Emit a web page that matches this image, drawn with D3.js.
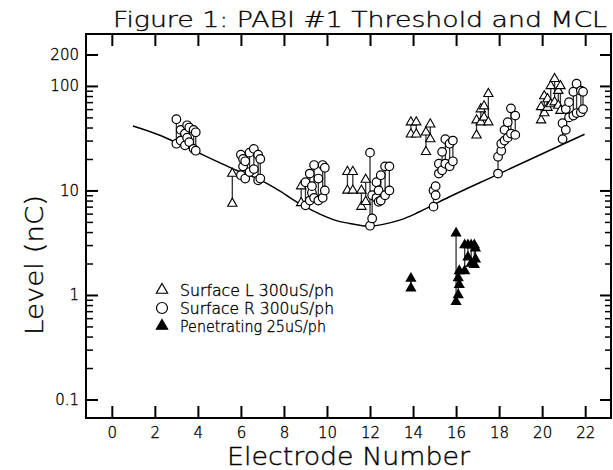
<!DOCTYPE html>
<html>
<head>
<meta charset="utf-8">
<script src="https://cdn.jsdelivr.net/npm/d3@7"></script>
<style>
  body { margin: 0; background: #fff; }
  svg { display: block; }
  text { font-family: "DejaVu Sans", "Liberation Sans", Arial, sans-serif; font-weight: 200; fill: #000; stroke: #000; stroke-width: 0.35px; }
</style>
</head>
<body>
<svg id="chart" width="613" height="470"></svg>
<script>
// ---- axis ticks and labels ----
const xTickValues = [0, 2, 4, 6, 8, 10, 12, 14, 16, 18, 20, 22];
const yMajorValues = [0.1, 1, 10, 100, 200];
const yMajorLabels = ["0.1", "1", "10", "100", "200"];
const yMinorValues = [0.2,0.3,0.4,0.5,0.6,0.7,0.8,0.9, 2,3,4,5,6,7,8,9, 20,30,40,50,60,70,80,90];

// ---- fitted level curve (electrode, nC) ----
const curveElectrode = [0.98, 2.23, 5.79, 6.87, 7.80, 8.87, 10.36, 11.05, 11.98, 13.38, 14.30, 15.70, 18.02, 21.97];
const curveLevel     = [41.4, 33.7, 15.6, 12.7, 9.9,  7.2,  5.2,   4.84,  4.56,  5.2,   6.25,  8.7,   14.5,  34.5];

// ---- Surface L 300uS/ph : electrode, threshold, MCL ----
const surfLElectrode = [5.6, 8.8, 10.95, 11.2, 11.6, 11.8, 13.9, 14.15, 14.6, 14.8, 16.95, 17.15, 17.3, 17.5, 19.95, 20.1, 20.25, 20.4, 20.58, 20.75, 20.85];
const surfLThreshold = [7.5, 7.6, 10.0,  10.0, 7.0,  7.8,  34.5, 34.5,  23.4, 31.0, 33.7,  45.0,  50.0, 45.0, 47.0,  55.0, 62.0,  67.0, 70.0,  65.0,  58.0];
const surfLMCL       = [14.5, 11.0, 15.1, 15.1, 10.0, 12.7, 45.0, 45.0, 36.0, 43.0, 47.0, 60.0, 64.0, 84.0, 63.0, 80.0, 75.0, 100.0, 117.0, 90.0, 100.0];

// ---- Surface R 300uS/ph : electrode, threshold, MCL ----
const surfRElectrode = [3.0, 3.2, 3.4, 3.5, 3.6, 3.8, 3.9,
                        6.0, 6.1, 6.2, 6.4, 6.6, 6.8, 6.9,
                        9.0, 9.2, 9.3, 9.4, 9.6, 9.8, 9.9,
                        12.0, 12.1, 12.3, 12.4, 12.5, 12.7, 12.9,
                        14.95, 15.05, 15.2, 15.35, 15.5, 15.7, 15.85,
                        17.95, 18.1, 18.25, 18.4, 18.55, 18.75,
                        20.95, 21.1, 21.25, 21.45, 21.6, 21.8, 21.9];
const surfRThreshold = [28, 30, 27, 32, 29, 25, 24,
                        14, 17, 13, 15, 16, 12.5, 13,
                        7.2, 8, 9.5, 8.5, 8, 8.5, 10,
                        4.6, 5.4, 8.5, 7.8, 8, 9, 10,
                        7, 9, 14.5, 15.6, 18, 17, 19,
                        14.5, 24, 30, 32, 35, 34,
                        31, 38, 50, 52, 55, 56, 60];
const surfRMCL       = [48, 38, 35, 42, 40, 38, 36,
                        22, 20, 19, 23, 25, 22, 20,
                        12, 14.5, 11, 17.5, 13, 17.5, 16.5,
                        23, 9, 12, 10, 14, 17, 17,
                        10, 11, 18, 23.4, 31, 28, 30,
                        21, 28, 38, 45, 61, 52,
                        44, 60, 70, 88, 105, 90, 88];

// ---- Penetrating 25uS/ph : electrode, threshold, MCL ----
const penElectrode = [13.9, 16.0, 16.1, 16.15, 16.4, 16.55, 16.7, 16.85, 16.9];
const penThreshold = [1.16, 0.86, 1.0, 1.25, 1.7, 2.3, 2.0, 1.95, 2.2];
const penMCL       = [1.44, 3.9, 1.45, 1.7, 3.0, 3.0, 3.0, 3.0, 2.8];

const legendLabels = ["Surface L  300uS/ph", "Surface R  300uS/ph", "Penetrating  25uS/ph"];

// ---- layout ----
const svg = d3.select("#chart");
const plot = { left: 86, right: 611, top: 34, bottom: 418 };

const x = d3.scaleLinear().domain([-1.2, 23.2]).range([plot.left, plot.right]);
const y = d3.scaleLog().domain([0.0665, 314]).range([plot.bottom, plot.top]);

// ---- axes with inward ticks on all four sides ----
function styleAxis(g, width) {
  g.select(".domain").remove();
  g.selectAll(".tick line").attr("stroke", "#000").attr("stroke-width", width);
}
function styleLabels(g) {
  g.selectAll(".tick text")
    .attr("font-size", 15)
    .attr("font-family", null);
}

svg.append("g")
  .attr("transform", `translate(0,${plot.bottom})`)
  .call(d3.axisBottom(x).tickValues(xTickValues).tickSizeInner(-12).tickSizeOuter(0).tickPadding(9).tickFormat(d3.format("d")))
  .call(g => styleAxis(g, 2))
  .call(styleLabels);

svg.append("g")
  .attr("transform", `translate(0,${plot.top})`)
  .call(d3.axisTop(x).tickValues(xTickValues).tickSizeInner(-12).tickSizeOuter(0).tickFormat(""))
  .call(g => styleAxis(g, 2));

svg.append("g")
  .attr("transform", `translate(${plot.left},0)`)
  .call(d3.axisLeft(y).tickValues(yMajorValues).tickSizeInner(-12).tickSizeOuter(0).tickPadding(7)
        .tickFormat((d, i) => yMajorLabels[i]))
  .call(g => styleAxis(g, 2))
  .call(styleLabels);

svg.append("g")
  .attr("transform", `translate(${plot.left},0)`)
  .call(d3.axisLeft(y).tickValues(yMinorValues).tickSizeInner(-7).tickSizeOuter(0).tickFormat(""))
  .call(g => styleAxis(g, 1.5));

svg.append("g")
  .attr("transform", `translate(${plot.right},0)`)
  .call(d3.axisRight(y).tickValues(yMajorValues).tickSizeInner(-11).tickSizeOuter(0).tickFormat(""))
  .call(g => styleAxis(g, 2));

svg.append("g")
  .attr("transform", `translate(${plot.right},0)`)
  .call(d3.axisRight(y).tickValues(yMinorValues).tickSizeInner(-6).tickSizeOuter(0).tickFormat(""))
  .call(g => styleAxis(g, 1.5));

svg.append("rect")
  .attr("x", plot.left).attr("y", plot.top)
  .attr("width", plot.right - plot.left).attr("height", plot.bottom - plot.top)
  .attr("fill", "none").attr("stroke", "#000").attr("stroke-width", 2);

// ---- titles ----
svg.append("text")
  .attr("x", 113).attr("y", 27)
  .attr("font-size", 22)
  .attr("textLength", 494).attr("lengthAdjust", "spacingAndGlyphs")
  .text("Figure 1: PABI #1 Threshold and MCL");

svg.append("text")
  .attr("x", 227).attr("y", 465)
  .attr("font-size", 25)
  .attr("textLength", 243).attr("lengthAdjust", "spacingAndGlyphs")
  .text("Electrode Number");

svg.append("text")
  .attr("transform", "translate(43,335) rotate(-90)")
  .attr("font-size", 25)
  .attr("textLength", 140).attr("lengthAdjust", "spacingAndGlyphs")
  .text("Level (nC)");

// ---- fitted curve ----
const curvePoints = curveElectrode.map((e, i) => [e, curveLevel[i]]);
svg.append("path")
  .datum(curvePoints)
  .attr("fill", "none").attr("stroke", "#000").attr("stroke-width", 1.5)
  .attr("d", d3.line().x(d => x(d[0])).y(d => y(d[1])).curve(d3.curveCatmullRom.alpha(0.5)));

// ---- threshold/MCL pairs ----
const triUp = d3.symbol().type(d3.symbolTriangle).size(38);
const series = [
  { electrode: surfLElectrode, lo: surfLThreshold, hi: surfLMCL, marker: "tri", fill: "#fff" },
  { electrode: surfRElectrode, lo: surfRThreshold, hi: surfRMCL, marker: "circle", fill: "#fff" },
  { electrode: penElectrode,   lo: penThreshold,   hi: penMCL,   marker: "tri", fill: "#000" }
];

const pairLayer = svg.append("g");
const markLayer = svg.append("g");

series.forEach(s => {
  const rows = s.electrode.map((e, i) => ({ e, lo: s.lo[i], hi: s.hi[i] }));
  pairLayer.selectAll(null).data(rows).join("line")
    .attr("x1", d => x(d.e)).attr("x2", d => x(d.e))
    .attr("y1", d => y(d.lo)).attr("y2", d => y(d.hi))
    .attr("stroke", "#333").attr("stroke-width", 1.3);

  const pts = rows.flatMap(d => [{ e: d.e, v: d.lo }, { e: d.e, v: d.hi }]);
  if (s.marker === "circle") {
    markLayer.selectAll(null).data(pts).join("circle")
      .attr("cx", d => x(d.e)).attr("cy", d => y(d.v)).attr("r", 4.3)
      .attr("fill", s.fill).attr("stroke", "#000").attr("stroke-width", 1.2);
  } else {
    markLayer.selectAll(null).data(pts).join("path")
      .attr("transform", d => `translate(${x(d.e)},${y(d.v)})`)
      .attr("d", triUp)
      .attr("fill", s.fill).attr("stroke", "#000").attr("stroke-width", 1.1);
  }
});

// ---- legend ----
const legend = svg.append("g");
const legendY = [290, 308, 326];
legend.append("path").attr("transform", `translate(162,${legendY[0]})`)
  .attr("d", d3.symbol().type(d3.symbolTriangle).size(55)).attr("fill", "#fff").attr("stroke", "#000").attr("stroke-width", 1.2);
legend.append("circle").attr("cx", 162).attr("cy", legendY[1]).attr("r", 5.5)
  .attr("fill", "#fff").attr("stroke", "#000").attr("stroke-width", 1.2);
legend.append("path").attr("transform", `translate(162,${legendY[2]})`)
  .attr("d", d3.symbol().type(d3.symbolTriangle).size(55)).attr("fill", "#000").attr("stroke", "#000").attr("stroke-width", 1.2);
const legendWidths = [154, 154, 146];
legendLabels.forEach((t, i) => {
  legend.append("text")
    .attr("x", 180).attr("y", legendY[i] + 6)
    .attr("font-size", 15)
    .attr("textLength", legendWidths[i]).attr("lengthAdjust", "spacingAndGlyphs")
    .text(t);
});
</script>
</body>
</html>
